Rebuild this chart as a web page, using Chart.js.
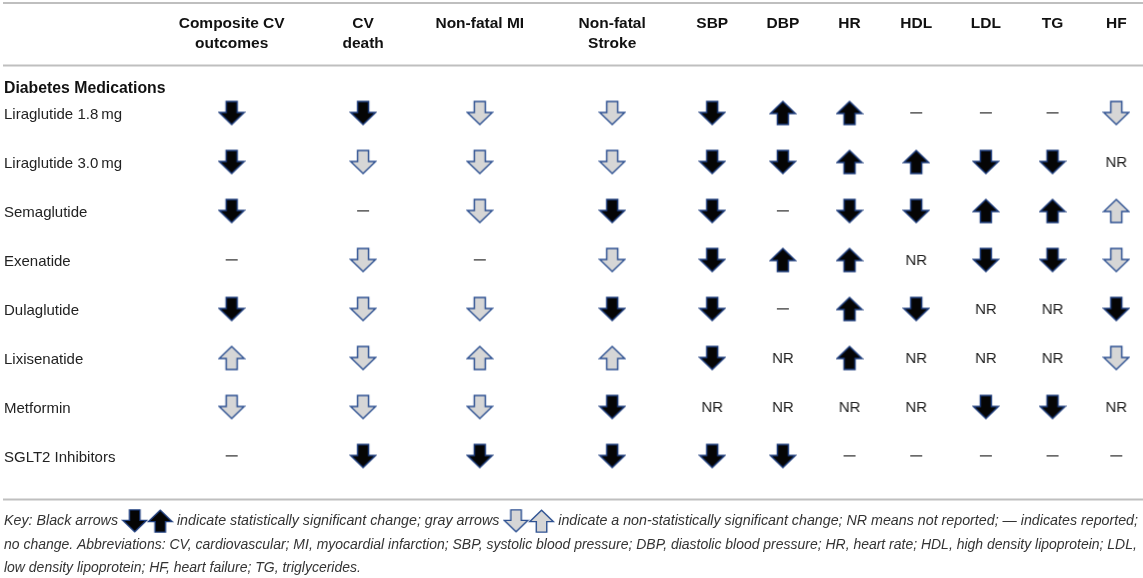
<!DOCTYPE html>
<html>
<head>
<meta charset="utf-8">
<script src="https://cdn.jsdelivr.net/npm/chart.js@4"></script>
<style>
html,body{margin:0;padding:0;background:#fff;}
#wrap{width:1143px;height:578px;position:relative;}
</style>
</head>
<body>
<div id="wrap"><canvas id="c" width="1143" height="578"></canvas></div>
<script>
// ---------- DATA ----------
const columnHeaders = [
  ['Composite CV','outcomes'], ['CV','death'], ['Non-fatal MI'], ['Non-fatal','Stroke'],
  ['SBP'], ['DBP'], ['HR'], ['HDL'], ['LDL'], ['TG'], ['HF']
];
const sectionTitle = 'Diabetes Medications';
const rowLabels = ['Liraglutide 1.8\u2009mg','Liraglutide 3.0\u2009mg','Semaglutide','Exenatide','Dulaglutide','Lixisenatide','Metformin','SGLT2 Inhibitors'];
// D = significant decrease, U = significant increase, d = non-significant decrease,
// u = non-significant increase, '-' = reported no change, NR = not reported
const liraglutide18 = ['D','D','d','d','D','U','U','-','-','-','d'];
const liraglutide30 = ['D','d','d','d','D','D','U','U','D','D','NR'];
const semaglutide   = ['D','-','d','D','D','-','D','D','U','U','u'];
const exenatide     = ['-','d','-','d','D','U','U','NR','D','D','d'];
const dulaglutide   = ['D','d','d','D','D','-','U','D','NR','NR','D'];
const lixisenatide  = ['u','d','u','u','D','NR','U','NR','NR','NR','d'];
const metformin     = ['d','d','d','D','NR','NR','NR','NR','D','D','NR'];
const sglt2         = ['-','D','D','D','D','D','-','-','-','-','-'];
const rowValues = [liraglutide18, liraglutide30, semaglutide, exenatide, dulaglutide, lixisenatide, metformin, sglt2];
const keyLine1 = ['Key: Black arrows ', '#D', '#U', ' indicate statistically significant change; gray arrows ', '#d', '#u', ' indicate a non-statistically significant change; NR means not reported; \u2014 indicates reported;'];
const keyLine2 = 'no change. Abbreviations: CV, cardiovascular; MI, myocardial infarction; SBP, systolic blood pressure; DBP, diastolic blood pressure; HR, heart rate; HDL, high density lipoprotein; LDL,';
const keyLine3 = 'low density lipoprotein; HF, heart failure; TG, triglycerides.';

// ---------- LAYOUT (positions of columns on the x scale, in scale units) ----------
const colCenters = [225, 359, 478, 613, 715, 787, 855, 923, 994, 1062, 1127];
const FONT = '"Liberation Sans", Arial, Helvetica, sans-serif';

// ---------- marker images ----------
function arrowCanvas(dir, fill, stroke, s) {
  s = s || 1;
  const W = Math.round(28*s), H = Math.round(27*s);
  const cv = document.createElement('canvas'); cv.width = W; cv.height = H;
  const g = cv.getContext('2d');
  const cx = W/2;
  const sw = 5.5*s, hw = 12.5*s, top = 2*s, mid = 13*s, tip = 25*s;
  let pts = [[cx-sw,top],[cx+sw,top],[cx+sw,mid],[cx+hw,mid],[cx,tip],[cx-hw,mid],[cx-sw,mid]];
  if (dir === 'up') pts = pts.map(p => [p[0], H - p[1]]);
  g.beginPath();
  pts.forEach((p,i) => i ? g.lineTo(p[0],p[1]) : g.moveTo(p[0],p[1]));
  g.closePath();
  g.fillStyle = fill; g.fill();
  g.lineJoin = 'miter'; g.lineWidth = 1.5*s; g.strokeStyle = stroke; g.stroke();
  return cv;
}
function textCanvas(txt) {
  const cv = document.createElement('canvas'); cv.width = 34; cv.height = 22;
  const g = cv.getContext('2d');
  g.font = '15px ' + FONT; g.fillStyle = '#222'; g.textAlign = 'center'; g.textBaseline = 'middle';
  g.fillText(txt, 17, 12);
  return cv;
}
function dashCanvas() {
  const cv = document.createElement('canvas'); cv.width = 18; cv.height = 6;
  const g = cv.getContext('2d');
  g.fillStyle = '#6a6a6a'; g.fillRect(3, 2, 12, 1.7);
  return cv;
}
const NAVY = '#1d3c7c', NAVY2 = '#2f5292';
const markerStyles = {
  'D': arrowCanvas('down', '#050505', NAVY),
  'U': arrowCanvas('up', '#050505', NAVY),
  'd': arrowCanvas('down', '#d6d6d6', NAVY2),
  'u': arrowCanvas('up', '#d6d6d6', NAVY2),
  '-': dashCanvas(),
  'NR': textCanvas('NR')
};
const keyIcons = {
  '#D': arrowCanvas('down', '#050505', NAVY, 0.95),
  '#U': arrowCanvas('up', '#050505', NAVY, 0.95),
  '#d': arrowCanvas('down', '#d6d6d6', NAVY2, 0.95),
  '#u': arrowCanvas('up', '#d6d6d6', NAVY2, 0.95)
};

// ---------- datasets built from data ----------
const codes = ['D','U','d','u','-','NR'];
const datasets = codes.map(code => {
  const pts = [];
  rowValues.forEach((vals, r) => vals.forEach((v, c) => { if (v === code) pts.push({x: colCenters[c], y: r}); }));
  return { label: code, data: pts, pointStyle: markerStyles[code], pointRadius: 10, pointHoverRadius: 10 };
});

// ---------- table decoration plugin ----------
const tablePlugin = {
  id: 'tableDecor',
  beforeDraw(chart) {
    const ctx = chart.ctx, xs = chart.scales.x, ys = chart.scales.y;
    const W = chart.width;
    ctx.save();
    ctx.fillStyle = '#fff'; ctx.fillRect(0,0,W,chart.height);
    // rules
    ctx.fillStyle = '#bfbfbf';
    ctx.fillRect(3, 2, W-3, 2);
    ctx.fillRect(3, 64.5, W-3, 2);
    ctx.fillRect(3, 498.5, W-3, 2);
    // headers
    ctx.fillStyle = '#111'; ctx.font = 'bold 15.5px ' + FONT;
    ctx.textAlign = 'center'; ctx.textBaseline = 'middle';
    columnHeaders.forEach((lines, c) => {
      const x = xs.getPixelForValue(colCenters[c]);
      lines.forEach((ln, i) => ctx.fillText(ln, x, 23.5 + i*20.5));
    });
    // section title
    ctx.textAlign = 'left';
    ctx.font = 'bold 15.8px ' + FONT;
    ctx.fillText(sectionTitle, 4, 88.5);
    // row labels
    ctx.font = '15px ' + FONT; ctx.fillStyle = '#222';
    rowLabels.forEach((lb, r) => ctx.fillText(lb, 4, ys.getPixelForValue(r) + 1.5));
    // key
    ctx.fillStyle = '#333';
    const target = 1134;
    let fs = 13;
    ctx.font = 'italic ' + fs + 'px ' + FONT;
    const w2 = ctx.measureText(keyLine2).width;
    fs = fs * target / w2;
    ctx.font = 'italic ' + fs + 'px ' + FONT;
    // line 1 with icons
    const iconW = 25;
    let tot = 0;
    keyLine1.forEach(seg => { tot += keyIcons[seg] ? iconW : ctx.measureText(seg).width; });
    const sx = target / tot;
    let x = 4;
    const y1 = 521;
    keyLine1.forEach(seg => {
      if (keyIcons[seg]) {
        const im = keyIcons[seg];
        ctx.drawImage(im, x + iconW*sx/2 - im.width/2, y1 - im.height/2);
        x += iconW*sx;
      } else {
        ctx.save(); ctx.translate(x, y1); ctx.scale(sx, 1);
        ctx.fillText(seg, 0, 0); ctx.restore();
        x += ctx.measureText(seg).width * sx;
      }
    });
    ctx.fillText(keyLine2, 4, 545);
    ctx.fillText(keyLine3, 4, 568);
    ctx.restore();
  }
};

new Chart(document.getElementById('c'), {
  type: 'scatter',
  data: { datasets },
  options: {
    responsive: false,
    animation: false,
    events: [],
    devicePixelRatio: 1,
    layout: { padding: { top: 113 - 24.5, bottom: 578 - (456 + 24.5), left: 0, right: 0 } },
    scales: {
      x: { type: 'linear', min: 0, max: 1143, display: false },
      y: { type: 'linear', min: -0.5, max: 7.5, reverse: true, display: false }
    },
    plugins: { legend: { display: false }, tooltip: { enabled: false } }
  },
  plugins: [tablePlugin]
});
</script>
</body>
</html>
